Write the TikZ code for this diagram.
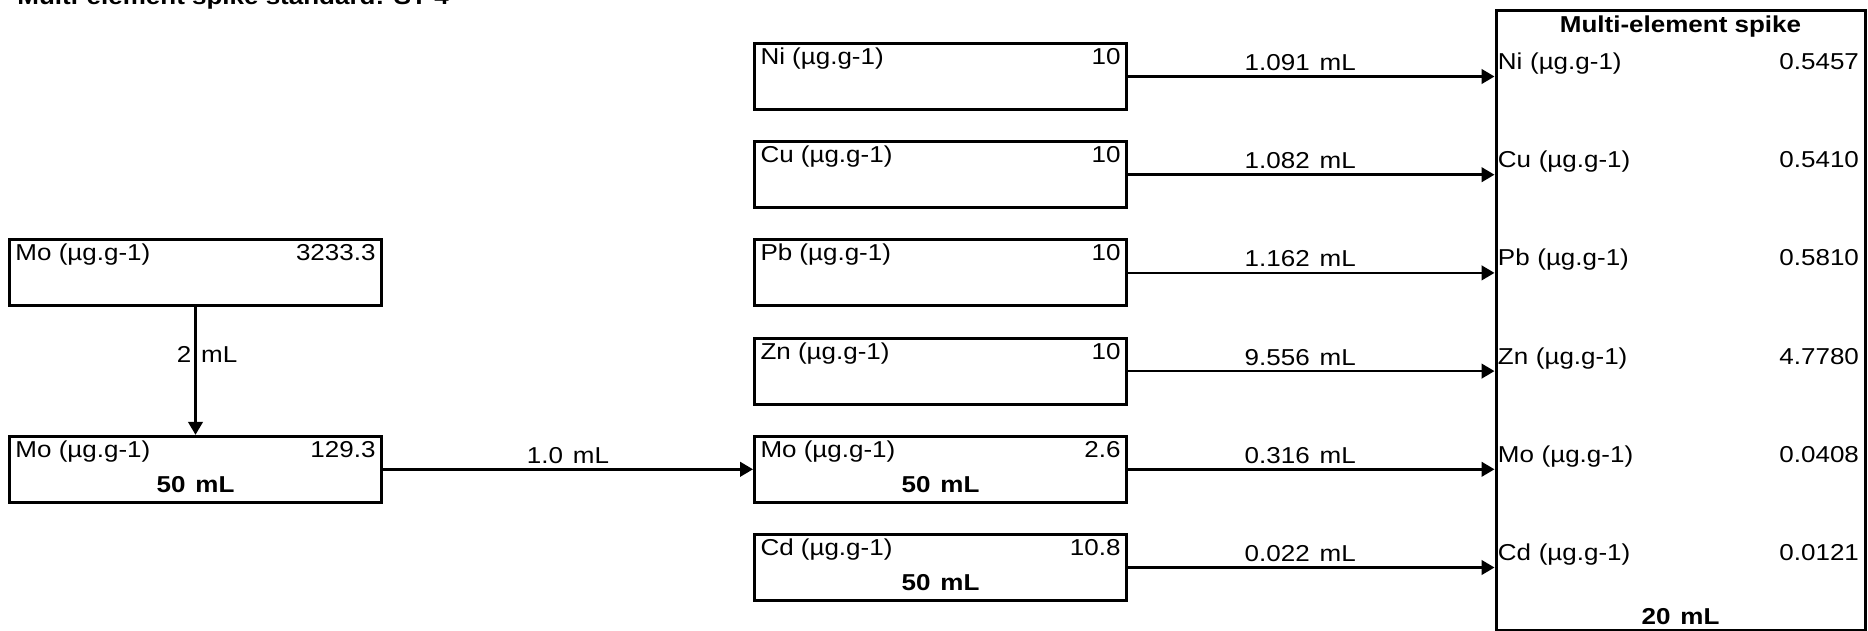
\documentclass[tikz,border=0pt]{standalone}
\usepackage{fontspec}
\setmainfont{Liberation Sans}[FakeStretch=1.13]
\usepackage{tikz}
\usetikzlibrary{arrows.meta,positioning}
\newcommand{\conc}[3]{\parbox[c][31pt][t]{180pt}{\rule{0pt}{9.5pt}#1 (µg.g-1)\hfill #2\par
  \vskip 3.5pt{\centering\bfseries #3\par}}}
\newcommand{\vol}[1]{#1\hspace{5pt}mL}

\begin{document}
\begin{tikzpicture}[x=0.5pt, y=-0.5pt, node distance=14.6pt and 185pt,
  font=\fontsize{11.5pt}{14pt}\selectfont,
  vial/.style={draw, line width=1.5pt, inner xsep=3pt, inner ysep=1pt,
    minimum width=186pt, minimum height=33pt},
  spikebox/.style={draw, line width=1.5pt, inner sep=0pt,
    minimum width=184.5pt, minimum height=309.5pt},
  spikerow/.style={anchor=base west, inner sep=0pt, text width=180.5pt,
    align=left, xshift=1.5pt, yshift=3.5pt},
  flow/.style={line width=1.25pt, -{Triangle[length=6.5pt,width=7.3pt]}},
  amount/.style={anchor=base, inner sep=0pt, yshift=3pt}]
\useasboundingbox (0,0) rectangle (1868,631);
\node[anchor=base west, inner sep=0pt] (title) at (17,5)
  {\textbf{Multi-element spike standard: ST-4}};

\node[vial, anchor=north west] (ni) at (753,42) {\conc{Ni}{10}{}};
\node[vial, below=of ni] (cu) {\conc{Cu}{10}{}};
\node[vial, below=of cu] (pb) {\conc{Pb}{10}{}};
\node[vial, below=of pb] (zn) {\conc{Zn}{10}{}};
\node[vial, below=of zn] (mo) {\conc{Mo}{2.6}{\vol{50}}};
\node[vial, below=of mo] (cd) {\conc{Cd}{10.8}{\vol{50}}};
\node[vial, left=of pb] (mostock) {\conc{Mo}{3233.3}{}};
\node[vial, left=of mo] (modil) {\conc{Mo}{129.3}{\vol{50}}};

\node[spikebox, anchor=north west] (spike) at (1494.5,9.5) {};
\node[anchor=base, inner sep=0pt] (spikehead) at ([yshift=-11.7pt]spike.north)
  {\textbf{Multi-element spike}};
\node[anchor=base, inner sep=0pt] (spikevol) at ([yshift=3.5pt]spike.south)
  {\textbf{\vol{20}}};

\draw[flow] (mostock) -- (modil)
  node[pos=0.43, anchor=base west, inner sep=0pt, xshift=-10pt] {\vol{2}};
\draw[flow] (modil) -- (mo) node[midway, amount] {\vol{1.0}};

\foreach \v/\el/\amt/\c in {ni/Ni/1.091/0.5457, cu/Cu/1.082/0.5410,
    pb/Pb/1.162/0.5810, zn/Zn/9.556/4.7780, mo/Mo/0.316/0.0408,
    cd/Cd/0.022/0.0121}{
  \draw[flow] (\v.east) -- (\v.east -| spike.west)
    node[pos=0.47, amount] {\vol{\amt}};
  \node[spikerow] (s\v) at (\v.east -| spike.west) {\el\ (µg.g-1)\hfill\c};
}
\end{tikzpicture}
\end{document}
